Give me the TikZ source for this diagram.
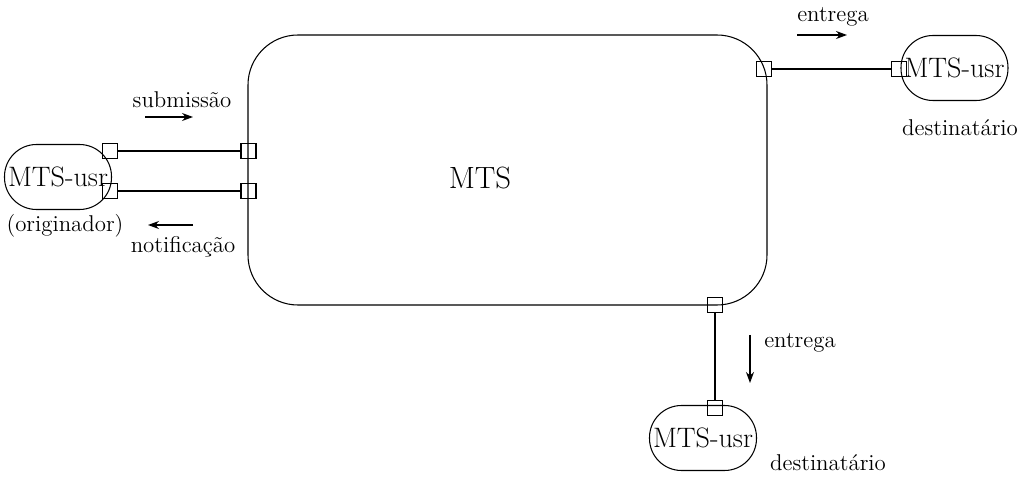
\documentclass[tikz,border=0pt]{standalone}
\usepackage{tikz}
\usetikzlibrary{arrows.meta,positioning}

\newcommand{\lblfont}{\fontsize{13}{15}\selectfont}
\newcommand{\usrfont}{\fontsize{16}{19}\selectfont}

\begin{document}
\begin{tikzpicture}[x=0.2mm,y=-0.2mm,line width=0.6pt,
  usr/.style={draw,rounded corners=6.4mm,minimum width=21.4mm,minimum height=13mm,inner sep=0,font=\usrfont},
  port/.style={draw,minimum size=3mm,inner sep=0},
  lbl/.style={font=\lblfont,inner sep=0},
  dir/.style={-{Stealth[length=2.2mm,width=1.6mm]}}]
  \useasboundingbox (0,0) rectangle (1024,480);
  % message transfer system
  \node[draw,rounded corners=10mm,minimum width=103.8mm,minimum height=54mm] (mts) at (507.5,170) {};
  \node[font=\fontsize{17.5}{21}\selectfont] (mtslbl) at (480,178) {MTS};
  % users
  \node[usr] (orig) at (58,177) {MTS-usr};
  \node[usr] (destA) at (954.5,68) {MTS-usr};
  \node[usr] (destB) at (703,438) {MTS-usr};
  % ports
  \foreach \nm/\px/\py in {po1/110/151, po2/110/191, pm1/248.5/151, pm2/248.5/191,
    pm3/764/69, pa/899/69, pm4/715/305, pb/715/408}{
      \node[port] (\nm) at (\px,\py) {};
  }
  \draw (po1) -- (pm1);
  \draw (po2) -- (pm2);
  \draw (pm3) -- (pa);
  \draw (pm4) -- (pb);
  % labels
  \node[lbl] (sub) at (182,100) {submiss\~ao};
  \node[lbl] (origlbl) at (65,226) {(originador)};
  \node[lbl] (notif) at (183,247) {notifica\c{c}\~ao};
  \node[lbl] (entA) at (833,17) {entrega};
  \node[lbl] (dstA) at (960,128) {destinat\'ario};
  \node[lbl] (entB) at (800,343) {entrega};
  \node[lbl] (dstB) at (828,463) {destinat\'ario};
  % flow arrows
  \coordinate (s1) at (145,117); \coordinate (s2) at (193,117);
  \coordinate (n1) at (193,225); \coordinate (n2) at (148,225);
  \coordinate (e1) at (797,35);  \coordinate (e2) at (847,35);
  \coordinate (f1) at (750,335); \coordinate (f2) at (750,383);
  \draw[dir] (s1) -- (s2);
  \draw[dir] (n1) -- (n2);
  \draw[dir] (e1) -- (e2);
  \draw[dir] (f1) -- (f2);
\end{tikzpicture}
\end{document}
